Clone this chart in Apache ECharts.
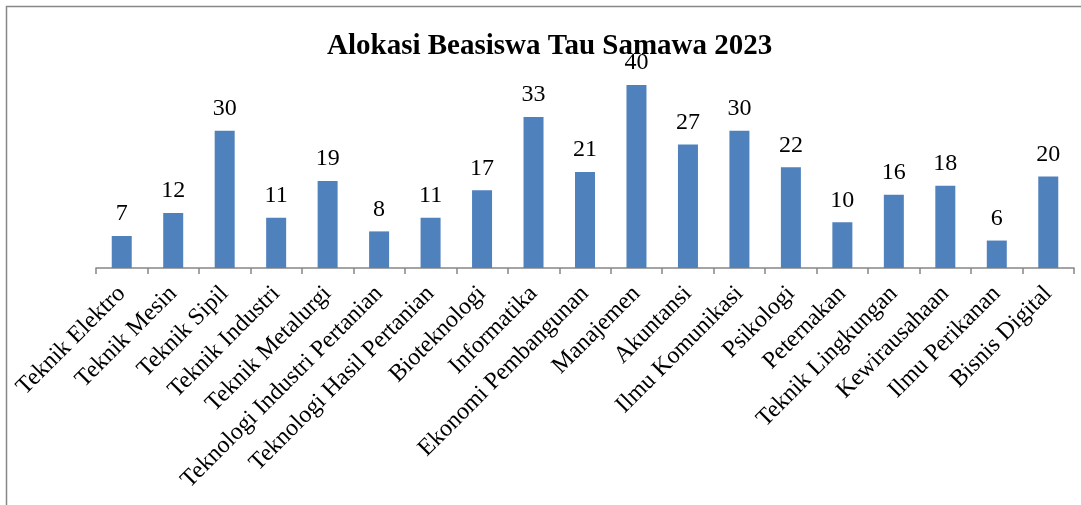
<!DOCTYPE html>
<html>
<head>
<meta charset="utf-8">
<script src="https://cdn.jsdelivr.net/npm/echarts@6/dist/echarts.min.js"></script>
<style>
html,body{margin:0;padding:0;background:#fff;}
#chart{width:1081px;height:505px;}
</style>
</head>
<body>
<div id="chart"></div>
<script>
const titleText = 'Alokasi Beasiswa Tau Samawa 2023';
const categories = ['Teknik Elektro','Teknik Mesin','Teknik Sipil','Teknik Industri','Teknik Metalurgi','Teknologi Industri Pertanian','Teknologi Hasil Pertanian','Bioteknologi','Informatika','Ekonomi Pembangunan','Manajemen','Akuntansi','Ilmu Komunikasi','Psikologi','Peternakan','Teknik Lingkungan','Kewirausahaan','Ilmu Perikanan','Bisnis Digital'];
const values = [7,12,30,11,19,8,11,17,33,21,40,27,30,22,10,16,18,6,20];

const FONT = "'Liberation Serif','Times New Roman',serif";
const chart = echarts.init(document.getElementById('chart'));
chart.setOption({
  animation: false,
  backgroundColor: '#fff',
  title: {
    text: titleText,
    left: 322,
    top: 27,
    textStyle: {fontFamily: FONT, fontWeight: 'bold', fontSize: 29, color: '#000'}
  },
  graphic: [{
    type: 'rect',
    shape: {x: 6.5, y: 6.5, width: 1200, height: 700},
    style: {fill: null, stroke: '#888', lineWidth: 1.5},
    silent: true
  }],
  grid: {left: 96, right: 7, top: 85, bottom: 505 - 268, containLabel: false},
  xAxis: {
    type: 'category',
    data: categories,
    axisLine: {lineStyle: {color: '#868686', width: 1.5}},
    axisTick: {show: true, length: 6, lineStyle: {color: '#868686', width: 1.5}},
    axisLabel: {rotate: 45, interval: 0, margin: 22, fontFamily: FONT, fontSize: 24, color: '#000'}
  },
  yAxis: {
    type: 'value', min: 0, max: 40, show: false,
    splitLine: {show: false}
  },
  series: [{
    type: 'bar',
    data: values,
    barWidth: 20,
    itemStyle: {color: '#4F81BD'},
    label: {show: true, position: 'top', distance: 10, fontFamily: FONT, fontSize: 24, color: '#000'}
  }]
});
</script>
</body>
</html>
